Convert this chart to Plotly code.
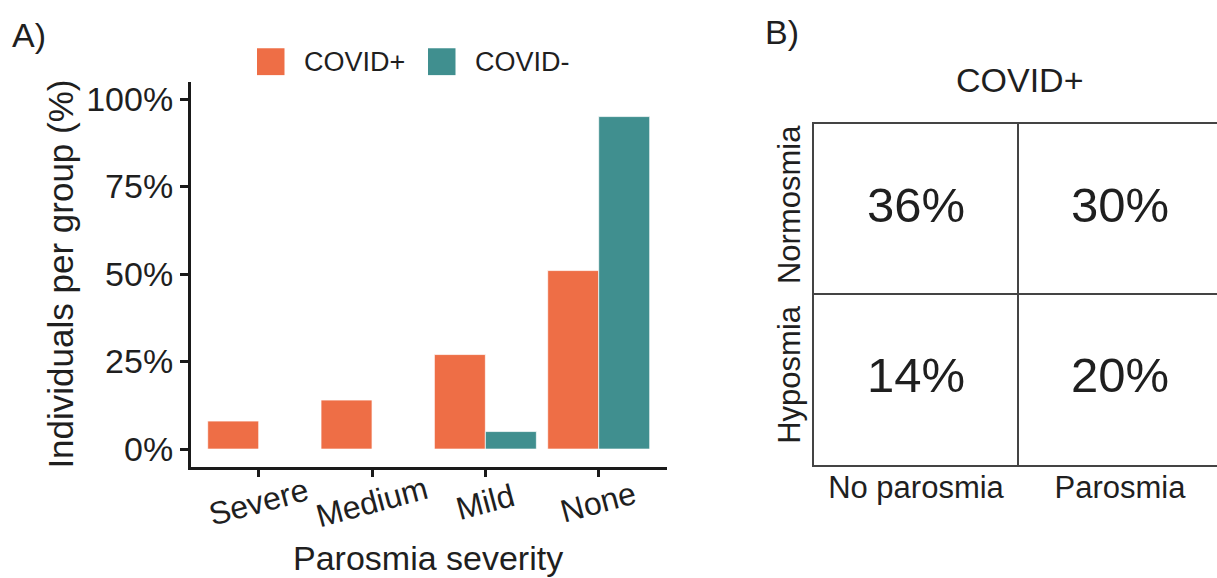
import plotly.graph_objects as go

# ---- Panel A data ----
severity = ["Severe", "Medium", "Mild", "None"]
covid_pos = [8, 14, 27, 51]
covid_neg = [0, 0, 5, 95]
series_names = ["COVID+", "COVID-"]
series_colors = ["#EE6E46", "#408F8F"]
y_ticks = [0, 25, 50, 75, 100]

# ---- Panel B data ----
col_labels = ["No parosmia", "Parosmia"]
row_labels = ["Hyposmia", "Normosmia"]  # bottom to top
cell_values = [[14, 20], [36, 30]]       # rows bottom to top

FONT = "Liberation Sans, Arial, sans-serif"
TXT = "#1f1f1f"
W, H = 1217, 578

fig = go.Figure()

for name, vals, col in zip(series_names, [covid_pos, covid_neg], series_colors):
    fig.add_trace(go.Bar(
        x=severity, y=vals, name=name, marker_color=col,
        marker_line=dict(color="rgba(255,255,255,0.7)", width=1),
        showlegend=False, xaxis="x", yaxis="y"))

# Panel B cell texts
bx, by, bt = [], [], []
for ri, row in enumerate(cell_values):
    for ci, v in enumerate(row):
        bx.append(ci + 0.5)
        by.append(ri + 0.5)
        bt.append(f"{v}%")
fig.add_trace(go.Scatter(
    x=bx, y=by, text=bt, mode="text", showlegend=False,
    textfont=dict(size=49, color=TXT, family=FONT),
    xaxis="x2", yaxis="y2", hoverinfo="skip"))

ax_line = dict(showline=True, linecolor="#1a1a1a", linewidth=2.5,
               ticks="outside", ticklen=8, tickwidth=2.5, tickcolor="#1a1a1a")

layout = dict(
    width=W, height=H, autosize=False,
    margin=dict(l=0, r=0, t=0, b=0),
    paper_bgcolor="white", plot_bgcolor="white",
    font=dict(family=FONT, color=TXT),
    barmode="group", bargap=0.1, bargroupgap=0,
    xaxis=dict(domain=[190.7 / W, 666.7 / W], range=[-0.6, 3.6],
               showticklabels=False, showgrid=False, zeroline=False,
               **ax_line),
    yaxis=dict(domain=[(H - 467) / H, (H - 80) / H], range=[-5, 105],
               tickvals=y_ticks, ticktext=[f"{v}%" for v in y_ticks],
               tickfont=dict(size=34, color=TXT),
               showgrid=False, zeroline=False,
               title=dict(text="Individuals per group (%)", font=dict(size=35, color=TXT), standoff=2),
               **ax_line),
    xaxis2=dict(domain=[814 / W, 1.0], range=[0, (W - 814) / 204.0],
                anchor="y2", showline=True, mirror=True, linecolor="#444", linewidth=1.5,
                tickvals=[0.5, 1.5], ticktext=col_labels, ticks="",
                tickfont=dict(size=31, color=TXT), ticklabelstandoff=-6,
                showgrid=False, zeroline=False,
                minor=dict(tickvals=[1], showgrid=True, gridcolor="#444", gridwidth=1.5, ticks="")),
    yaxis2=dict(domain=[(H - 465) / H, (H - 123) / H], range=[0, 2],
                anchor="x2", showline=True, linecolor="#444", linewidth=1.5,
                tickvals=[0.5, 1.5], ticktext=row_labels, ticks="", tickangle=-90,
                tickfont=dict(size=31, color=TXT),
                showgrid=False, zeroline=False,
                minor=dict(tickvals=[1], showgrid=True, gridcolor="#444", gridwidth=1.5, ticks="")),
)
fig.update_layout(**layout)

annotations = []
# rotated category labels (panel A)
for cat in severity:
    annotations.append(dict(x=cat, xref="x", y=(H - 503) / H, yref="paper",
                            text=cat, showarrow=False, textangle=-15,
                            xanchor="center", yanchor="middle",
                            font=dict(size=32, color=TXT, family=FONT)))
annotations += [
    dict(x=428 / W, y=(H - 559) / H, xref="paper", yref="paper", text="Parosmia severity",
         showarrow=False, xanchor="center", yanchor="middle", font=dict(size=34, color=TXT)),
    dict(x=29 / W, y=(H - 33) / H, xref="paper", yref="paper", text="A)",
         showarrow=False, xanchor="center", yanchor="middle", font=dict(size=34, color=TXT)),
    dict(x=782 / W, y=(H - 30) / H, xref="paper", yref="paper", text="B)",
         showarrow=False, xanchor="center", yanchor="middle", font=dict(size=34, color=TXT)),
    dict(x=1020 / W, y=(H - 78) / H, xref="paper", yref="paper", text="COVID+",
         showarrow=False, xanchor="center", yanchor="middle", font=dict(size=34, color=TXT)),
]
# manual legend
shapes = []
leg_x = [257, 428]
for name, col, lx in zip(series_names, series_colors, leg_x):
    shapes.append(dict(type="rect", xref="paper", yref="paper",
                       x0=lx / W, x1=(lx + 27.5) / W, y0=(H - 73.5) / H, y1=(H - 46.5) / H,
                       fillcolor=col, line=dict(width=0)))
    annotations.append(dict(x=(lx + 45) / W, y=(H - 60) / H, xref="paper", yref="paper",
                            text=name, showarrow=False, xanchor="left", yanchor="middle",
                            font=dict(size=27, color=TXT)))
fig.update_layout(annotations=annotations, shapes=shapes)

fig.write_html("out.html", config={"displayModeBar": False},
               post_script="document.body.style.margin='0';document.body.style.overflow='hidden';")
